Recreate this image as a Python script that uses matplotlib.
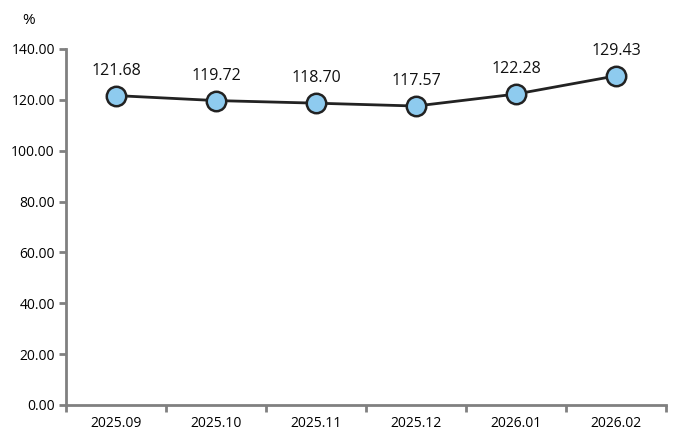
import matplotlib.pyplot as plt

months = ["2025.09", "2025.10", "2025.11", "2025.12", "2026.01", "2026.02"]
values = [121.68, 119.72, 118.70, 117.57, 122.28, 129.43]
yticks = [0, 20, 40, 60, 80, 100, 120, 140]

plt.rcParams["font.family"] = ["Open Sans", "DejaVu Sans"]

fig = plt.figure(figsize=(6.81, 4.43), dpi=100)
ax = fig.add_axes([66 / 681, 1 - 405 / 443, 600 / 681, 356 / 443])

x = list(range(len(months)))
ax.plot(x, values, color="#222222", lw=2, marker="o", ms=14,
        mfc="#8ecbef", mec="#222222", mew=1.8, zorder=3, clip_on=False)
for xi, v in zip(x, values):
    ax.annotate(f"{v:.2f}", (xi, v), xytext=(0, 12), textcoords="offset points",
                ha="center", va="bottom", fontsize=11.5, color="#111111")

ax.set_xlim(-0.5, len(months) - 0.5)
ax.set_ylim(0, 140)
ax.set_yticks(yticks)
ax.set_yticklabels([f"{t:.2f}" for t in yticks])
ax.set_xticks(x)
ax.set_xticklabels(months)
ax.set_xticks([i - 0.5 for i in range(len(months) + 1)], minor=True)
ax.tick_params(axis="x", which="major", length=0, pad=8, labelsize=10)
ax.tick_params(axis="x", which="minor", length=5, width=2, color="#808080")
ax.tick_params(axis="y", length=5, width=2, color="#808080", labelsize=10, pad=3)

for s in ["top", "right"]:
    ax.spines[s].set_visible(False)
for s in ["left", "bottom"]:
    ax.spines[s].set_color("#808080")
    ax.spines[s].set_linewidth(2)

fig.text(29 / 681, 1 - 21 / 443, "%", ha="center", va="center", fontsize=11)

fig.savefig("out.png", dpi=100)
